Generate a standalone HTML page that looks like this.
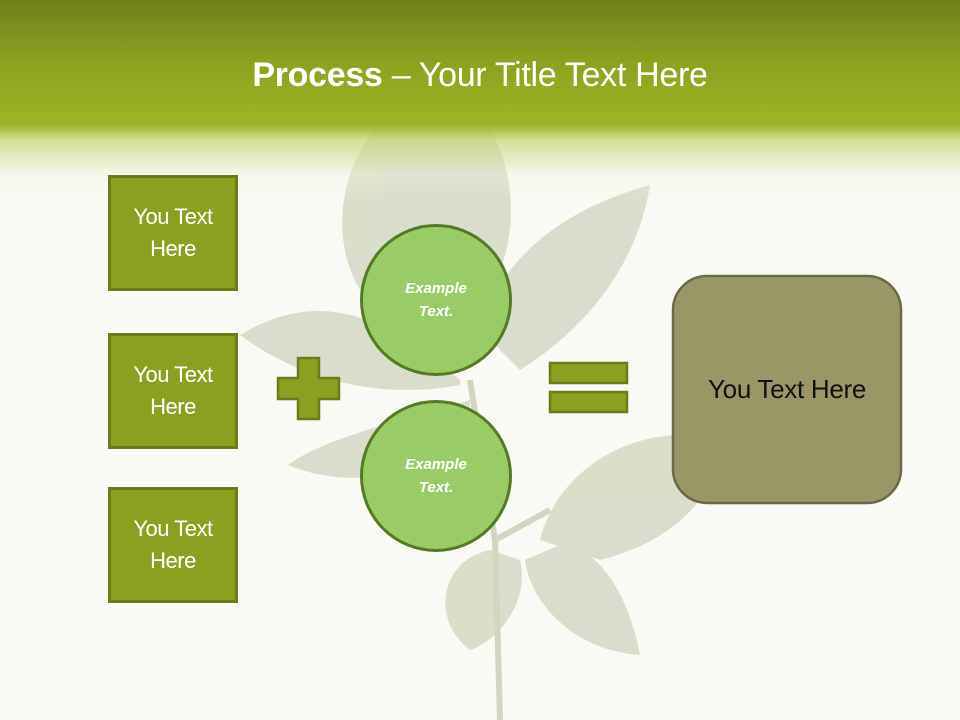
<!DOCTYPE html>
<html><head><style>
body{margin:0;width:960px;height:720px;overflow:hidden;position:relative;background:#f9faf3;font-family:"Liberation Sans",sans-serif}
.hdr{position:absolute;left:0;top:0;width:960px;height:200px;background:linear-gradient(#6e8119 0px,#8aa11f 60px,#9db526 125px,rgba(198,214,122,0.75) 140px,rgba(238,242,220,0.35) 175px,rgba(249,250,243,0) 200px)}
.title{position:absolute;left:0;top:56px;width:960px;text-align:center;color:#fff;font-size:34px;letter-spacing:-0.3px}
.box{position:absolute;left:108px;width:124px;height:110px;background:#8aa021;border:3px solid #6b7d1a;color:#fff;font-size:22px;display:flex;align-items:center;justify-content:center;text-align:center;line-height:32px;letter-spacing:-0.5px}
.circ{position:absolute;left:360px;width:146px;height:146px;border-radius:50%;background:#99cc66;border:3px solid #557a22;color:#fff;font-style:italic;font-weight:bold;font-size:15px;display:flex;align-items:center;justify-content:center;text-align:center;line-height:23px}
</style></head><body>
<svg style="position:absolute;left:0;top:0" width="960" height="720">
<g fill="#d6dbc8" opacity="0.9">
<path d="M375 130 C340 170 330 240 360 290 C390 320 470 320 500 270 C520 220 510 160 490 130 Z"/>
<path d="M480 330 C500 260 560 210 650 185 C640 250 600 320 520 370 Z"/>
<path d="M460 380 C400 330 330 280 240 335 C300 380 380 400 460 385 Z"/>
<path d="M470 400 C400 420 320 440 288 465 C350 490 420 480 470 420 Z"/>
<path d="M540 540 C560 460 650 420 720 440 C720 490 680 540 600 560 Z"/>
<path d="M490 550 C440 560 430 620 470 650 C500 640 530 600 520 560 Z"/>
<path d="M525 560 C530 600 570 650 640 655 C630 600 600 545 560 545 Z"/>
</g>
<path d="M500 720 L495 540 L470 380 M495 540 L550 510" stroke="#d0d6c0" stroke-width="6" fill="none"/>
</svg>
<div class="hdr"></div>
<svg style="position:absolute;left:0;top:0" width="960" height="720">
<path d="M298 358 h21 v20 h20 v21 h-20 v20 h-21 v-20 h-20 v-21 h20 z" fill="#8aa021" stroke="#6b7d1a" stroke-width="2.5"/>
<rect x="550" y="363" width="77" height="20" fill="#8aa021" stroke="#6b7d1a" stroke-width="2.5"/>
<rect x="550" y="392" width="77" height="20" fill="#8aa021" stroke="#6b7d1a" stroke-width="2.5"/>
<rect x="673" y="276" width="228" height="227" rx="34" fill="#9a9668" stroke="#6b6a45" stroke-width="2.5"/>
</svg>
<div class="title"><b>Process</b> – Your Title Text Here</div>
<div class="box" style="top:175px">You Text<br>Here</div>
<div class="box" style="top:333px">You Text<br>Here</div>
<div class="box" style="top:487px">You Text<br>Here</div>
<div class="circ" style="top:224px">Example<br>Text.</div>
<div class="circ" style="top:400px">Example<br>Text.</div>
<div style="position:absolute;left:673px;top:276px;width:228px;height:227px;display:flex;align-items:center;justify-content:center;font-size:26px;color:#111;letter-spacing:-0.3px">You Text Here</div>
</body></html>
